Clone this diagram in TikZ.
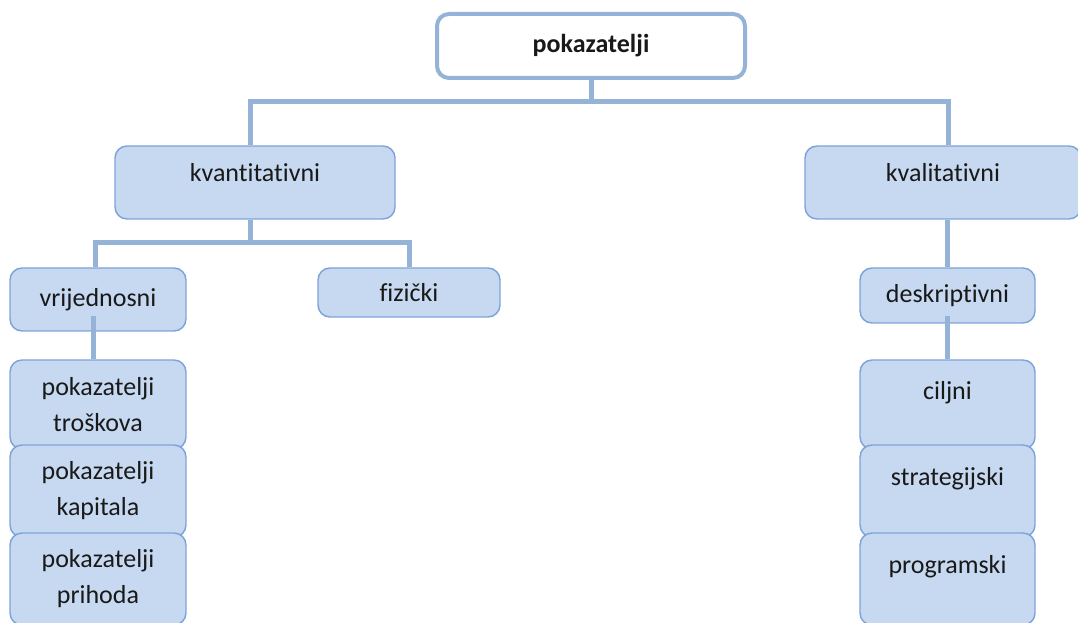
\documentclass[tikz,border=0pt]{standalone}
\usepackage{fontspec}
\setmainfont{Carlito}[Ligatures=NoCommon]
\usepackage{xcolor}
\usepackage{tikz}
\usetikzlibrary{shapes,positioning}
\definecolor{boxfill}{RGB}{198,217,241}
\definecolor{boxline}{RGB}{126,163,216}
\definecolor{connline}{RGB}{149,179,215}
\tikzstyle{box} = [draw=boxline, fill=boxfill, line width=1.1pt, rounded corners=9pt, align=center, inner sep=0pt]
\tikzstyle{rootbox} = [draw=connline, fill=white, line width=3pt, rounded corners=9pt, font=\bfseries\fontsize{19.5}{27}\selectfont, inner sep=0pt]
\tikzstyle{conn} = [draw=connline, line width=3.75pt]

\begin{document}
\begin{tikzpicture}[x=0.75pt, y=-0.75pt, every node/.style={font=\fontsize{19.5}{27}\selectfont, text=black!90}]
        \useasboundingbox (0,0) rectangle (1078,623);
        % boxes
        \node[rootbox, minimum width=231pt, minimum height=48pt] (pok) at (591,46) {pokazatelji};
        \node[box, minimum width=210pt, minimum height=54.75pt, text depth=15pt] (kvant) at (255,182.5) {kvantitativni};
        \node[box, minimum width=207pt, minimum height=54.75pt, text depth=15pt] (kval) at (943,182.5) {kvalitativni};
        \node[box, minimum width=132pt, minimum height=47.25pt] (vrij) at (98,299.5) {vrijednosni};
        \node[box, minimum width=136.5pt, minimum height=36.75pt] (fiz) at (409,292.5) {fizički};
        \node[box, minimum width=131.25pt, minimum height=41.25pt] (desk) at (947.5,295.5) {deskriptivni};

        \node[box, minimum width=132pt, minimum height=66.75pt] (trosk) at (98,404.5) {pokazatelji\\troškova};
        \node[box, minimum width=132pt, minimum height=69pt] (kapit) at (98,491) {pokazatelji\\kapitala};
        \node[box, minimum width=132pt, minimum height=69pt] (prih) at (98,579) {pokazatelji\\prihoda};

        \node[box, minimum width=131.25pt, minimum height=66.75pt] (cilj) at (947.5,404.5) {ciljni\\[-14pt]\strut};
        \node[box, minimum width=131.25pt, minimum height=69pt] (strat) at (947.5,491) {strategijski\\[-14pt]\strut};
        \node[box, minimum width=131.25pt, minimum height=69pt] (progr) at (947.5,579) {programski\\[-14pt]\strut};

        % connectors
        \draw[conn] (pok.south) -- ++(0,22) coordinate (top);
        \draw[conn] ([xshift=-3.75pt]kvant.north) |- ([xshift=3.75pt]kval.north |- top) -- ([xshift=3.75pt]kval.north);
        \draw[conn] ([xshift=-3.75pt]kvant.south) -- ++(0,23) coordinate (mid);
        \draw[conn] ([xshift=-2.25pt]vrij.north) |- (fiz.north |- mid) -- (fiz.north);
        \draw[conn] (desk.north) -- (desk.north |- kval.south);
        \draw[conn] ([xshift=-3.75pt]trosk.north) -- ++(0,-43);
        \draw[conn] (cilj.north) -- ++(0,-43);
    \end{tikzpicture}
\end{document}
